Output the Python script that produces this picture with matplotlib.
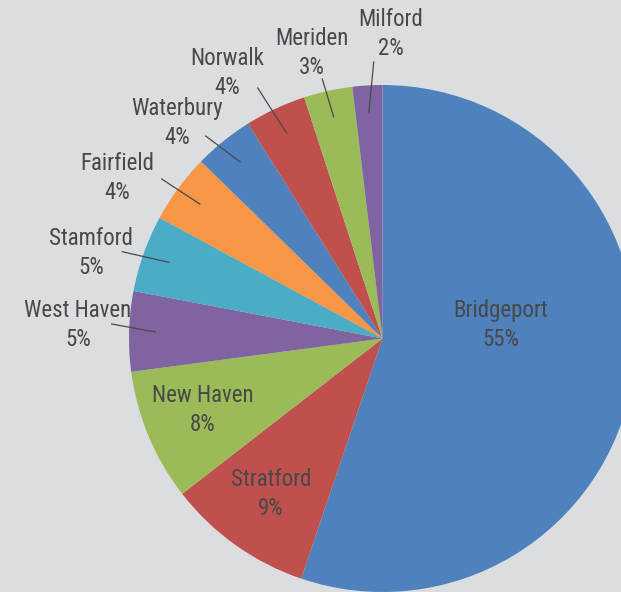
import matplotlib
matplotlib.use("Agg")
import matplotlib.pyplot as plt
import numpy as np
from matplotlib import font_manager as fm

# ---------------- data ----------------
cities = ["Bridgeport", "Stratford", "New Haven", "West Haven", "Stamford",
          "Fairfield", "Waterbury", "Norwalk", "Meriden", "Milford"]
shares = [55.2, 9.3, 8.4, 5.1, 4.9, 4.4, 3.8, 3.9, 3.1, 1.9]
colors = ["#4f81bd", "#c0504d", "#9bbb59", "#8064a2", "#4bacc6",
          "#f79646", "#4f81bd", "#c0504d", "#9bbb59", "#8064a2"]

# ---------------- layout (pixels, from top-left) ----------------
W, H = 621, 592
CX, CY, R = 382.5, 338.5, 253.5
label_pos = {
    "Bridgeport": (501, 325), "Stratford": (271, 494), "New Haven": (203, 410),
    "West Haven": (78, 325), "Stamford": (91, 253), "Fairfield": (117, 178),
    "Waterbury": (177, 123), "Norwalk": (227, 73), "Meriden": (312, 53),
    "Milford": (391, 34),
}
leader_start = {
    "West Haven": (111.7, 324), "Stamford": (122.3, 251.7), "Fairfield": (161.7, 179),
    "Waterbury": (205.7, 136), "Norwalk": (257.7, 88), "Meriden": (322.3, 79),
    "Milford": (373.7, 62),
}
leader_frac = 0.895

names = {f.name for f in fm.fontManager.ttflist}
family, stretch = "DejaVu Sans", "condensed"
for cand in ["Roboto Condensed", "Liberation Sans Narrow", "Open Sans Condensed"]:
    if cand in names:
        family, stretch = cand, "normal"
        break

BG = "#dcdde0"
TXT = "#484848"

fig = plt.figure(figsize=(W / 100, H / 100), dpi=100, facecolor=BG)
ax = fig.add_axes([0, 0, 1, 1])
ax.set_facecolor(BG)

def py(y):
    return H - y

ax.pie(shares, colors=colors, startangle=90, counterclock=False,
       center=(CX, py(CY)), radius=R, wedgeprops=dict(linewidth=0))

total = sum(shares)
cum = np.cumsum([0] + shares[:-1])
for name, v, c0 in zip(cities, shares, cum):
    lx, ly = label_pos[name]
    ax.text(lx, py(ly), f"{name}\n{round(v / total * 100):.0f}%", ha="center", va="center",
            fontsize=16.5, color=TXT, family=family, fontstretch=stretch,
            fontweight="normal", linespacing=1.3)
    if name in leader_start:
        mid = np.deg2rad(90 - (c0 + v / 2) / total * 360)
        ex = CX + leader_frac * R * np.cos(mid)
        ey = py(CY) + leader_frac * R * np.sin(mid)
        sx, sy = leader_start[name]
        ax.plot([sx, ex], [py(sy), ey], color="#4a4a4a", lw=0.9)

ax.set_xlim(0, W)
ax.set_ylim(0, H)
ax.set_aspect("auto")
ax.axis("off")
fig.savefig("out.png", dpi=100, facecolor=BG)
